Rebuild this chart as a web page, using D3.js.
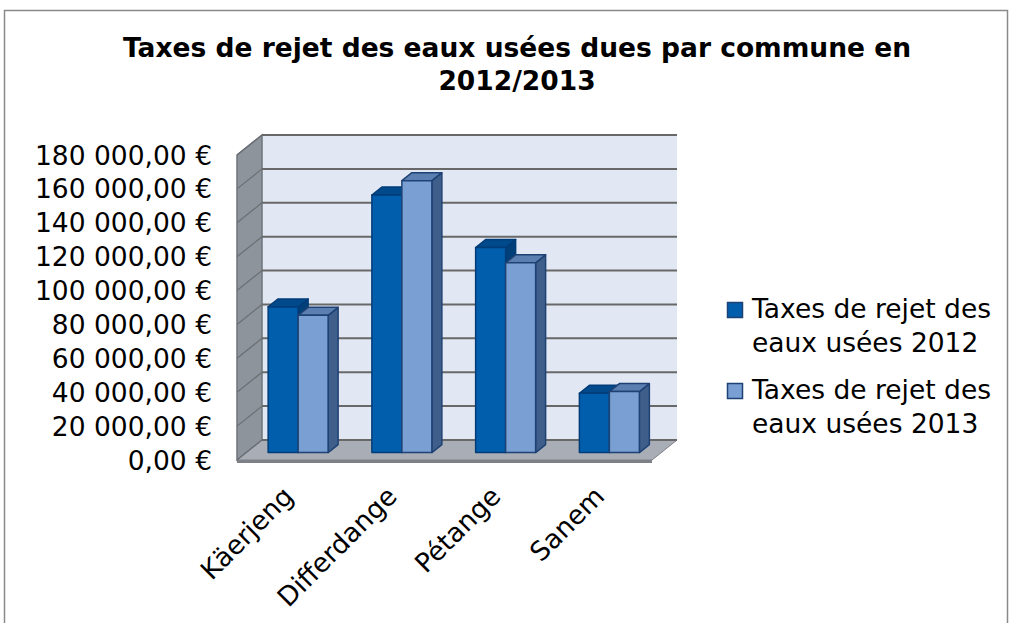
<!DOCTYPE html>
<html>
<head>
<meta charset="utf-8">
<script src="https://cdn.jsdelivr.net/npm/d3@7"></script>
<style>
  body { margin: 0; background: #fff; }
  text { font-family: "DejaVu Sans", Verdana, sans-serif; fill: #000; }
</style>
</head>
<body>
<svg width="1011" height="623"></svg>
<script>
const categories = ["Käerjeng", "Differdange", "Pétange", "Sanem"];
const seriesNames = ["Taxes de rejet des eaux usées 2012", "Taxes de rejet des eaux usées 2013"];
const values2012 = [86000, 152000, 121000, 35000];
const values2013 = [81000, 160500, 112000, 36000];
const yTicks = [0, 20000, 40000, 60000, 80000, 100000, 120000, 140000, 160000, 180000];

const svg = d3.select("svg");

// depth offset of the 3d box (front -> back)
const depthX = 25;
const depthY = 20;

const x = d3.scaleBand().domain(categories).range([237, 652]);
const xs = d3.scaleBand().domain([0, 1]).range([0, x.bandwidth()]).paddingOuter(0.73);
const y = d3.scaleLinear().domain([0, 180000]).range([460, 155]);

// project a point: front-plane x, value, depth z (0 front .. 1 back)
const px = (fx, z) => fx + z * depthX;
const py = (v, z) => y(v) - z * depthY;

const fmt = d3.formatLocale({
  decimal: ",",
  thousands: "\u00a0",
  grouping: [3],
  currency: ["", "\u00a0€"]
}).format("$,.2f");

const labelSize = 26.5;

// outer border
svg.append("rect")
  .attr("x", 4.5).attr("y", 10.5)
  .attr("width", 1003).attr("height", 630)
  .attr("fill", "none")
  .attr("stroke", "#8a8a8a")
  .attr("stroke-width", 1.5);

// title
const title = svg.append("text")
  .attr("text-anchor", "middle")
  .attr("font-weight", "bold")
  .attr("font-size", 26.5);
title.append("tspan").attr("x", 517).attr("y", 57).text("Taxes de rejet des eaux usées dues par commune en");
title.append("tspan").attr("x", 517).attr("y", 90).text("2012/2013");

const x0 = x.range()[0], x1 = x.range()[1];

// back wall
svg.append("rect")
  .attr("x", px(x0, 1)).attr("y", py(180000, 1))
  .attr("width", x1 - x0).attr("height", y(0) - y(180000))
  .attr("fill", "#e2e8f3");

// side wall
svg.append("polygon")
  .attr("points", [[x0, y(0)], [px(x0, 1), py(0, 1)], [px(x0, 1), py(180000, 1)], [x0, y(180000)]].join(" "))
  .attr("fill", "#8e949c")
  .attr("stroke", "#6f747b")
  .attr("stroke-width", 1.5);

// floor slab
svg.append("polygon")
  .attr("points", [[x0, y(0)], [x1, y(0)], [x1, y(0) + 3], [x0, y(0) + 3]].join(" "))
  .attr("fill", "#7d8187");
svg.append("polygon")
  .attr("points", [[x0, y(0)], [x1, y(0)], [px(x1, 1), py(0, 1)], [px(x0, 1), py(0, 1)]].join(" "))
  .attr("fill", "#a9aeb6")
  .attr("stroke", "#7d8187")
  .attr("stroke-width", 1);

// gridlines on back wall and side wall
const grid = svg.append("g");
grid.selectAll("line.back")
  .data(yTicks)
  .join("line")
  .attr("class", "back")
  .attr("x1", px(x0, 1)).attr("x2", px(x1, 1))
  .attr("y1", d => py(d, 1)).attr("y2", d => py(d, 1))
  .attr("stroke", "#686868")
  .attr("stroke-width", 2);
grid.selectAll("line.side")
  .data(yTicks)
  .join("line")
  .attr("class", "side")
  .attr("x1", x0).attr("x2", px(x0, 1))
  .attr("y1", d => y(d)).attr("y2", d => py(d, 1))
  .attr("stroke", "#6a6e74")
  .attr("stroke-width", 1.2);

// bars
const zF = 0.37, zB = 0.77;
const colors = [
  { front: "#005eac", top: "#004a8c", side: "#003f78", stroke: "#003c78" },
  { front: "#7aa0d3", top: "#5b7fb0", side: "#3f5f8a", stroke: "#1f4275" }
];
const bars = [];
categories.forEach((c, i) => {
  [values2012[i], values2013[i]].forEach((v, s) => {
    bars.push({ cat: c, s, v, xl: x(c) + xs(s), xr: x(c) + xs(s) + xs.bandwidth() });
  });
});

const barG = svg.append("g");
bars.forEach(b => {
  const c = colors[b.s];
  const g = barG.append("g")
    .attr("stroke", c.stroke)
    .attr("stroke-width", 1.5)
    .attr("stroke-linejoin", "round");
  g.append("polygon")
    .attr("points", [[px(b.xr, zF), py(0, zF)], [px(b.xr, zB), py(0, zB)], [px(b.xr, zB), py(b.v, zB)], [px(b.xr, zF), py(b.v, zF)]].join(" "))
    .attr("fill", c.side);
  g.append("polygon")
    .attr("points", [[px(b.xl, zF), py(b.v, zF)], [px(b.xr, zF), py(b.v, zF)], [px(b.xr, zB), py(b.v, zB)], [px(b.xl, zB), py(b.v, zB)]].join(" "))
    .attr("fill", c.top);
  g.append("rect")
    .attr("x", px(b.xl, zF)).attr("y", py(b.v, zF))
    .attr("width", b.xr - b.xl).attr("height", py(0, zF) - py(b.v, zF))
    .attr("fill", c.front);
});

// y axis labels
svg.append("g")
  .selectAll("text")
  .data(yTicks)
  .join("text")
  .attr("x", 212)
  .attr("y", d => y(d))
  .attr("dy", "0.36em")
  .attr("text-anchor", "end")
  .attr("font-size", labelSize)
  .text(d => fmt(d));

// x axis labels
svg.append("g")
  .selectAll("text")
  .data(categories)
  .join("text")
  .attr("text-anchor", "end")
  .attr("font-size", labelSize)
  .attr("transform", d => `translate(${x(d) + x.bandwidth() / 2 + 6},${498}) rotate(-45)`)
  .text(d => d);

// legend
const legend = svg.append("g");
seriesNames.forEach((name, i) => {
  const top = 302 + i * 81;
  legend.append("rect")
    .attr("x", 727.5).attr("y", top + 0.5)
    .attr("width", 15).attr("height", 15)
    .attr("fill", colors[i].front)
    .attr("stroke", "#1f4275")
    .attr("stroke-width", 1.5);
  const words = name.split(" ");
  const t = legend.append("text").attr("font-size", labelSize);
  t.append("tspan").attr("x", 752).attr("y", top + 16).text(words.slice(0, 4).join(" "));
  t.append("tspan").attr("x", 752).attr("y", top + 50).text(words.slice(4).join(" "));
});
</script>
</body>
</html>
